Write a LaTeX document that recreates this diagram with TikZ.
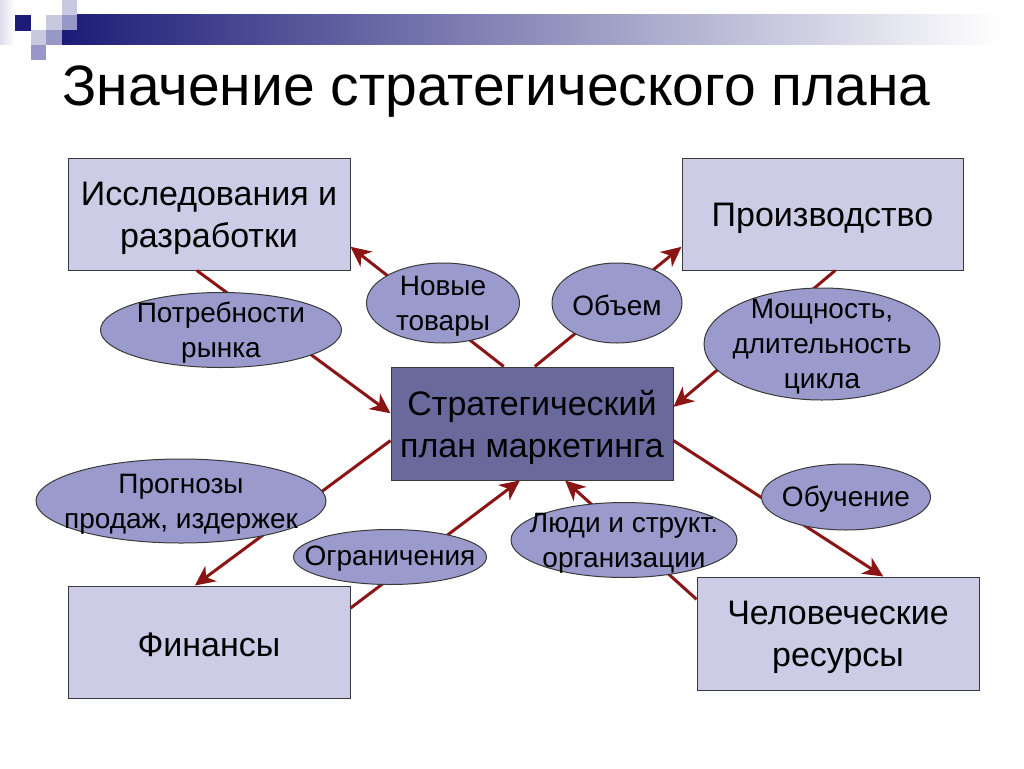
\documentclass[tikz,border=0pt]{standalone}
\usepackage{fontspec}
\setmainfont{Liberation Sans}
\usetikzlibrary{shapes.geometric,arrows.meta,calc}
\definecolor{boxfill}{HTML}{CCCCE6}
\definecolor{cfill}{HTML}{69699C}
\definecolor{ofill}{HTML}{9A9ACC}
\definecolor{arrc}{HTML}{8B1414}
\definecolor{edgec}{HTML}{3A3A3A}
\definecolor{navy}{HTML}{1C1C78}
\definecolor{sqlight}{HTML}{C8C8E0}
\definecolor{sqmid}{HTML}{9898C8}
\definecolor{bargray}{HTML}{A8A8B8}
\begin{document}
\begin{tikzpicture}[x=1pt,y=-1pt,
  box/.style={draw=edgec, line width=1pt, fill=boxfill, minimum width=282pt, minimum height=112pt, inner sep=0pt},
  cbox/.style={box, fill=cfill},
  btext/.style={inner sep=0pt, align=center, font=\fontsize{34}{42}\selectfont},
  oval/.style={ellipse, draw=edgec, line width=1pt, fill=ofill, inner sep=0pt},
  otext/.style={inner sep=0pt, align=center, font=\fontsize{28}{35}\selectfont},
  arr/.style={draw=arrc, line width=3pt, -{Stealth[length=20pt,width=19pt,inset=6pt]}},
  title/.style={anchor=base west, inner sep=0pt, font=\fontsize{57}{66}\selectfont}]
\useasboundingbox (0,0) rectangle (1024,768);
\fill[white] (0,0) rectangle (1024,768);
% decoration
\shade[left color=sqlight!60, right color=white] (0,0) rectangle (15,45);
\shade[left color=navy, middle color=bargray, right color=white] (62,15) rectangle (1000,45);
\fill[navy] (15,15) rectangle (31,31);
\fill[sqlight] (62,0) rectangle (77,15);
\fill[sqlight] (46,15) rectangle (62,30);
\fill[sqmid] (62,15) rectangle (77,30);
\fill[sqlight] (31,30) rectangle (46,45);
\fill[sqmid] (46,30) rectangle (62,45);
\fill[sqmid] (31,45) rectangle (46,60);
% title
\node[title] (t) at (62,105) {Значение стратегического плана};
% boxes
\node[box] (rd) at (209,214) {};
\node[btext] (rdt) at ($(rd)+(0,4)$) {Исследования и\\разработки};
\node[box, minimum width=281pt] (pr) at (822.5,214) {};
\node[btext] (prt) at ($(pr)+(0,4)$) {Производство};
\node[box] (fn) at (209,642) {};
\node[btext] (fnt) at ($(fn)+(0,3)$) {Финансы};
\node[box, minimum height=113pt] (hr) at (838,633.5) {};
\node[btext] (hrt) at ($(hr)+(0,4)$) {Человеческие\\ресурсы};
\node[cbox, minimum height=113pt] (cm) at (532,423.5) {};
\node[btext] (cmt) at ($(cm)+(0,4)$) {Стратегический\\план маркетинга};
% connectors
\draw[arr] ($(rd.south west)!0.457!(rd.south east)$) -- ($(cm.north west)!0.41!(cm.south west)$);
\draw[arr] ($(cm.north west)!0.40!(cm.north east)$) -- ($(rd.north east)!0.79!(rd.south east)$);
\draw[arr] ($(cm.north west)!0.51!(cm.north east)$) -- ($(pr.north west)!0.79!(pr.south west)$);
\draw[arr] ($(pr.south west)!0.545!(pr.south east)$) -- ($(cm.north east)!0.354!(cm.south east)$);
\draw[arr] ($(cm.north west)!0.65!(cm.south west)$) -- ($(fn.north west)!0.45!(fn.north east)$);
\draw[arr] ($(fn.north east)!0.2!(fn.south east)$) -- ($(cm.south west)!0.457!(cm.south east)$);
\draw[arr] ($(hr.north west)!0.2!(hr.south west)$) -- ($(cm.south west)!0.617!(cm.south east)$);
\draw[arr] ($(cm.north east)!0.65!(cm.south east)$) -- ($(hr.north west)!0.66!(hr.north east)$);
% ellipses
\node[oval, minimum width=241pt, minimum height=75pt] (o1) at (221,330) {};
\node[otext] (o1t) at ($(o1)+(0,3)$) {Потребности\\рынка};
\node[oval, minimum width=153pt, minimum height=80pt] (o2) at (443,303) {};
\node[otext] (o2t) at ($(o2)+(0,3)$) {Новые\\товары};
\node[oval, minimum width=130pt, minimum height=80pt] (o3) at (617,303) {};
\node[otext] (o3t) at ($(o3)+(0,2)$) {Объем};
\node[oval, minimum width=236pt, minimum height=112pt] (o4) at (822,344) {};
\node[otext] (o4t) at ($(o4)+(0,3)$) {Мощность,\\длительность\\цикла};
\node[oval, minimum width=290pt, minimum height=84pt] (o5) at (181,501) {};
\node[otext] (o5t) at ($(o5)+(0,3)$) {Прогнозы\\продаж, издержек};
\node[oval, minimum width=193pt, minimum height=55pt] (o6) at (390,557) {};
\node[otext] (o6t) at ($(o6)+(0,2)$) {Ограничения};
\node[oval, minimum width=226pt, minimum height=75pt] (o7) at (624,540) {};
\node[otext] (o7t) at ($(o7)+(0,3)$) {Люди и структ.\\организации};
\node[oval, minimum width=169pt, minimum height=66pt] (o8) at (846,497) {};
\node[otext] (o8t) at ($(o8)+(0,2)$) {Обучение};
\end{tikzpicture}
\end{document}
